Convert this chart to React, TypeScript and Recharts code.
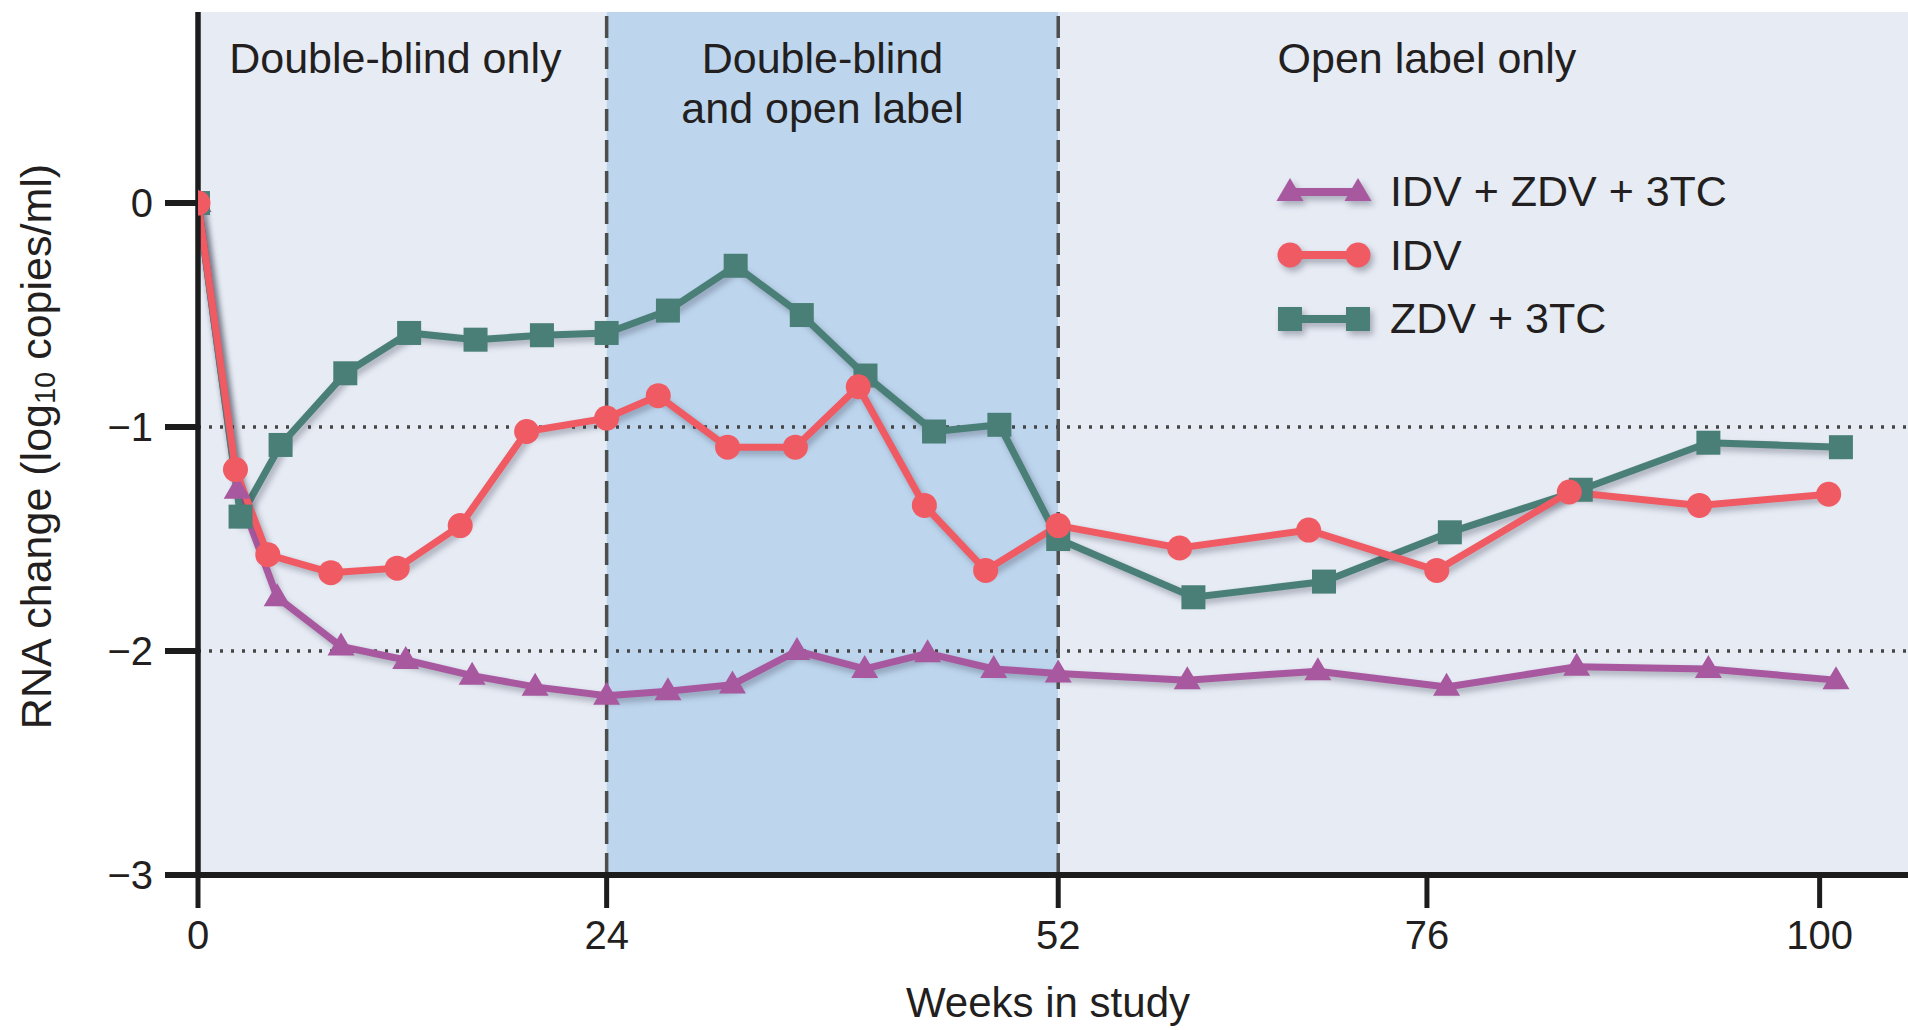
import React from 'react';
import { LineChart, Line, XAxis, YAxis, ReferenceArea, ReferenceLine, Legend } from 'recharts';

const FONT = '"Liberation Sans", Arial, Helvetica, sans-serif';
const INK = '#231f20';

// ---- data (weeks in study, RNA change in log10 copies/ml) ----
const TRIPLE_WEEKS = [0, 2.3, 4.65, 8.4, 12.2, 16.1, 19.8, 24, 27.8, 31.8, 35.8, 40, 43.9, 48, 52, 60.4, 68.9, 77.2, 85.15, 93.2, 101];
const TRIPLE_RNA = [0, -1.28, -1.76, -1.98, -2.04, -2.11, -2.16, -2.2, -2.18, -2.15, -2.0, -2.08, -2.01, -2.08, -2.1, -2.13, -2.09, -2.16, -2.07, -2.08, -2.13];

const IDV_WEEKS = [0, 2.2, 4.1, 7.8, 11.7, 15.4, 19.3, 24, 27.2, 31.5, 35.7, 39.6, 43.7, 47.5, 52, 59.9, 68.3, 76.6, 84.7, 92.65, 100.55];
const IDV_RNA = [0, -1.19, -1.57, -1.65, -1.63, -1.44, -1.02, -0.96, -0.86, -1.09, -1.09, -0.82, -1.35, -1.64, -1.44, -1.54, -1.46, -1.64, -1.29, -1.35, -1.3];

const ZDV_WEEKS = [0, 2.5, 4.85, 8.65, 12.4, 16.3, 20.2, 24, 27.8, 32.0, 36.1, 40.05, 44.3, 48.35, 52, 60.8, 69.3, 77.4, 85.4, 93.2, 101.3];
const ZDV_RNA = [0, -1.4, -1.08, -0.76, -0.58, -0.61, -0.59, -0.58, -0.48, -0.28, -0.5, -0.77, -1.02, -0.99, -1.5, -1.76, -1.69, -1.47, -1.28, -1.07, -1.09];

const X_TICKS = [0, 24, 52, 76, 100];
const Y_TICKS = [0, -1, -2, -3];
const X_DOMAIN = [0, 105.4];
const Y_DOMAIN = [-3, 0.853];

const PHASE_EDGES = [0, 24, 52, 100];
const PHASE_LABELS = [['Double-blind only'], ['Double-blind', 'and open label'], ['Open label only']];
const REF_LEVELS = [-1, -2];

const X_TITLE = 'Weeks in study';

// ---- styling ----
const PHASE_FILLS = ['#e6ebf4', '#bdd6ee', '#e6ebf4'];
const PHASE_LABEL_DX = [-7, -10, 0];

// printed axis spacing between the labelled weeks (relative px per week)
const WEEK_SPACING = [17.04, 16.14, 15.375, 16.375];

function weekPosition(v: number): number {
  let pos = 0;
  for (let i = 0; i < WEEK_SPACING.length; i++) {
    const a = X_TICKS[i];
    const b = X_TICKS[i + 1];
    if (v <= b || i === WEEK_SPACING.length - 1) return pos + (v - a) * WEEK_SPACING[i];
    pos += (b - a) * WEEK_SPACING[i];
  }
  return pos;
}

function positionWeek(p: number): number {
  let pos = 0;
  for (let i = 0; i < WEEK_SPACING.length; i++) {
    const a = X_TICKS[i];
    const b = X_TICKS[i + 1];
    const len = (b - a) * WEEK_SPACING[i];
    if (p <= pos + len || i === WEEK_SPACING.length - 1) return a + (p - pos) / WEEK_SPACING[i];
    pos += len;
  }
  return 0;
}

function makeWeekScale(dom: number[] = [0, 1], rng: number[] = [0, 1]): any {
  const scale: any = (v: any) => {
    const p0 = weekPosition(dom[0]);
    const p1 = weekPosition(dom[dom.length - 1]);
    const r0 = rng[0];
    const r1 = rng[rng.length - 1];
    return r0 + ((weekPosition(Number(v)) - p0) / (p1 - p0)) * (r1 - r0);
  };
  scale.domain = (d?: any) => {
    if (d === undefined) return dom.slice();
    dom = Array.from(d, Number);
    return scale;
  };
  scale.range = (r?: any) => {
    if (r === undefined) return rng.slice();
    rng = Array.from(r, Number);
    return scale;
  };
  scale.invert = (y: number) => {
    const p0 = weekPosition(dom[0]);
    const p1 = weekPosition(dom[dom.length - 1]);
    const r0 = rng[0];
    const r1 = rng[rng.length - 1];
    return positionWeek(p0 + ((y - r0) / (r1 - r0)) * (p1 - p0));
  };
  scale.copy = () => makeWeekScale(dom.slice(), rng.slice());
  scale.ticks = () => X_TICKS.slice();
  scale.tickFormat = () => (d: any) => String(d);
  scale.nice = () => scale;
  scale.clamp = () => scale;
  scale.unknown = () => scale;
  return scale;
}

const weekScale = makeWeekScale();

const toRows = (weeks: number[], values: number[]) => weeks.map((w, i) => ({ week: w, rna: values[i] }));

const SERIES = [
  { key: 'triple', name: 'IDV + ZDV + 3TC', data: toRows(TRIPLE_WEEKS, TRIPLE_RNA), color: '#a8589f', marker: 'triangle' },
  { key: 'zdv', name: 'ZDV + 3TC', data: toRows(ZDV_WEEKS, ZDV_RNA), color: '#4a7f77', marker: 'square' },
  { key: 'idv', name: 'IDV', data: toRows(IDV_WEEKS, IDV_RNA), color: '#f05a63', marker: 'circle' },
];
const LEGEND_ORDER = ['triple', 'idv', 'zdv'];

function Marker({ kind, cx, cy, color }: { kind: string; cx: number; cy: number; color: string }) {
  if (kind === 'square') return <rect x={cx - 12} y={cy - 12} width={24} height={24} fill={color} />;
  if (kind === 'circle') return <circle cx={cx} cy={cy} r={12.5} fill={color} />;
  return <polygon points={`${cx},${cy - 14} ${cx - 13.5},${cy + 9} ${cx + 13.5},${cy + 9}`} fill={color} />;
}

const minus = (v: number) => (v < 0 ? `\u2212${Math.abs(v)}` : String(v));

const YTitle = (props: any) => {
  const vb = props.viewBox || { x: 0, y: 12, width: 198, height: 863 };
  const x = vb.x + 36;
  const y = vb.y + vb.height / 2 + 3;
  return (
    <text
      x={x}
      y={y}
      transform={`rotate(-90 ${x} ${y})`}
      textAnchor="middle"
      dominantBaseline="central"
      fontFamily={FONT}
      fontSize={43}
      fill={INK}
    >
      <tspan>RNA change (log</tspan>
      <tspan fontSize={29} dy={9}>10</tspan>
      <tspan dy={-9}> copies/ml)</tspan>
    </text>
  );
};

const XTitle = (props: any) => {
  const vb = props.viewBox || { x: 198, y: 875, width: 1710, height: 155 };
  return (
    <text x={vb.x + vb.width / 2 - 5} y={vb.y + vb.height - 13} textAnchor="middle" fontFamily={FONT} fontSize={42} fill={INK}>
      {X_TITLE}
    </text>
  );
};

const phaseLabel = (lines: string[], dx: number) => (props: any) => {
  const vb = props.viewBox || { x: 0, y: 12 };
  const x = vb.x + dx;
  return (
    <text x={x} y={vb.y + 61} textAnchor="middle" fontFamily={FONT} fontSize={43} fill={INK}>
      {lines.map((l, i) => (
        <tspan key={i} x={x} dy={i === 0 ? 0 : 50}>
          {l}
        </tspan>
      ))}
    </text>
  );
};

const renderLegend = () => (
  <div style={{ fontFamily: FONT, color: INK }}>
    {LEGEND_ORDER.map((k) => {
      const s = SERIES.find((q) => q.key === k)!;
      return (
        <div key={k} style={{ display: 'flex', alignItems: 'center', height: 63.5 }}>
          <svg width={96} height={40} className="shadowed" style={{ overflow: 'visible' }}>
            <line x1={14} y1={20} x2={82} y2={20} stroke={s.color} strokeWidth={8} />
            <Marker kind={s.marker} cx={14} cy={20} color={s.color} />
            <Marker kind={s.marker} cx={82} cy={20} color={s.color} />
          </svg>
          <span style={{ fontSize: 43, marginLeft: 18, lineHeight: 1, whiteSpace: 'nowrap' }}>{s.name}</span>
        </div>
      );
    })}
  </div>
);

export default function App() {
  return (
    <div style={{ position: 'absolute', left: 0, top: 0, width: 1908, height: 1030, background: '#ffffff' }}>
      <style>{`.shadowed { filter: drop-shadow(3px 4px 3px rgba(50,50,70,0.35)); }`}</style>
      <LineChart width={1908} height={1030} margin={{ top: 12, right: 0, bottom: 0, left: 0 }}>
        {PHASE_FILLS.map((fill, i) => (
          <ReferenceArea
            key={`band-${i}`}
            x1={PHASE_EDGES[i]}
            x2={i === PHASE_FILLS.length - 1 ? X_DOMAIN[1] : PHASE_EDGES[i + 1]}
            fill={fill}
            fillOpacity={1}
            stroke="none"
          />
        ))}
        {REF_LEVELS.map((lv) => (
          <ReferenceLine key={`lv-${lv}`} y={lv} stroke="#454545" strokeWidth={3.5} strokeDasharray="3 8" />
        ))}
        {PHASE_EDGES.slice(1, 3).map((w) => (
          <ReferenceLine key={`edge-${w}`} x={w} stroke="#4d4d4d" strokeWidth={3.5} strokeDasharray="22 9" />
        ))}
        {PHASE_LABELS.map((lines, i) => (
          <ReferenceLine
            key={`pl-${i}`}
            x={(PHASE_EDGES[i] + PHASE_EDGES[i + 1]) / 2}
            stroke="none"
            label={phaseLabel(lines, PHASE_LABEL_DX[i])}
          />
        ))}
        <XAxis
          dataKey="week"
          type="number"
          scale={weekScale}
          domain={X_DOMAIN}
          allowDataOverflow
          ticks={X_TICKS}
          interval={0}
          height={155}
          tickSize={33}
          tickMargin={13}
          axisLine={{ stroke: '#1c1c1c', strokeWidth: 6 }}
          tickLine={{ stroke: '#1c1c1c', strokeWidth: 5 }}
          tick={{ fill: INK, fontSize: 40, fontFamily: FONT }}
          label={<XTitle />}
        />
        <YAxis
          type="number"
          domain={Y_DOMAIN}
          allowDataOverflow
          ticks={Y_TICKS}
          interval={0}
          width={198}
          tickSize={33}
          tickMargin={12}
          tickFormatter={minus}
          axisLine={{ stroke: '#1c1c1c', strokeWidth: 5.5 }}
          tickLine={{ stroke: '#1c1c1c', strokeWidth: 6 }}
          tick={{ fill: INK, fontSize: 40, fontFamily: FONT }}
          label={<YTitle />}
        />
        {SERIES.map((s) => (
          <Line
            key={s.key}
            data={s.data}
            dataKey="rna"
            name={s.name}
            type="linear"
            stroke={s.color}
            strokeWidth={7}
            className="shadowed"
            isAnimationActive={false}
            activeDot={false}
            dot={(p: any) =>
              p.cx == null || p.cy == null ? (
                <g key={`${s.key}-${p.index}`} />
              ) : (
                <Marker key={`${s.key}-${p.index}`} kind={s.marker} cx={p.cx} cy={p.cy} color={s.color} />
              )
            }
          />
        ))}
        <Legend
          content={renderLegend}
          layout="vertical"
          align="center"
          verticalAlign="middle"
          wrapperStyle={{ left: 1276, top: 160, width: 560 }}
        />
      </LineChart>
    </div>
  );
}
